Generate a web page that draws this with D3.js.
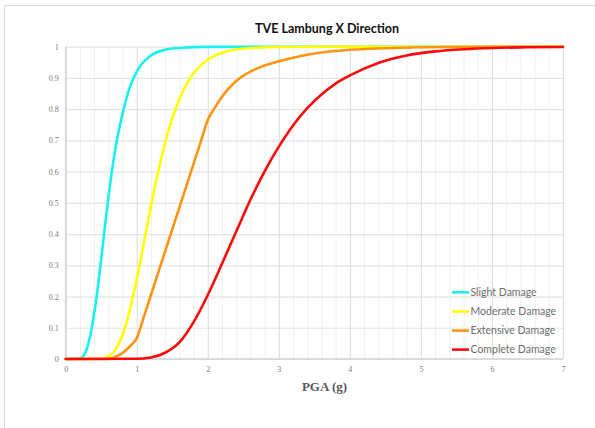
<!DOCTYPE html>
<html>
<head>
<meta charset="utf-8">
<script src="https://cdn.jsdelivr.net/npm/d3@7"></script>
<style>
  html, body { margin: 0; padding: 0; background: #fff; }
  svg { display: block; }
</style>
</head>
<body>
<svg id="chart" width="595" height="428"></svg>
<script>
// Fragility curves, PGA (g) vs probability of exceedance
const seriesNames = ["Slight Damage", "Moderate Damage", "Extensive Damage", "Complete Damage"];
const seriesColors = ["#19F0F0", "#FFFF00", "#FF9410", "#FF0A0A"];

const slightPGA  = [0, 0.2, 0.25, 0.3, 0.35, 0.4, 0.45, 0.5, 0.55, 0.6, 0.7, 0.8, 0.9, 1.0, 1.2, 1.4, 1.6, 2.0, 3, 4, 5, 6, 7];
const slightProb = [0, 0.002, 0.01, 0.034, 0.079, 0.145, 0.225, 0.32, 0.42, 0.515, 0.675, 0.785, 0.868, 0.92, 0.972, 0.99, 0.996, 0.9995, 1, 1, 1, 1, 1];

const moderatePGA  = [0, 0.5, 0.6, 0.7, 0.8, 0.9, 1.0, 1.1, 1.2, 1.3, 1.4, 1.5, 1.6, 1.8, 2.0, 2.2, 2.5, 3.0, 4, 5, 6, 7];
const moderateProb = [0, 0.001, 0.008, 0.03, 0.077, 0.154, 0.256, 0.371, 0.489, 0.598, 0.692, 0.771, 0.832, 0.915, 0.958, 0.98, 0.994, 0.999, 1, 1, 1, 1];

const extensivePGA  = [0, 0.6, 0.7, 0.8, 0.9, 1.0, 1.1, 1.2, 1.3, 1.4, 1.5, 1.6, 1.7, 1.8, 1.9, 2.0, 2.1, 2.2, 2.4, 2.6, 2.8, 3.0, 3.5, 4.0, 4.5, 5.0, 6.0, 7.0];
const extensiveProb = [0, 0.0, 0.007, 0.019, 0.04, 0.067, 0.135, 0.205, 0.275, 0.345, 0.415, 0.485, 0.555, 0.625, 0.695, 0.765, 0.805, 0.84, 0.89, 0.92, 0.94, 0.953, 0.978, 0.99, 0.995, 0.998, 1, 1];

const completePGA  = [0, 1.0, 1.2, 1.4, 1.6, 1.8, 2.0, 2.2, 2.4, 2.6, 2.8, 3.0, 3.2, 3.4, 3.6, 3.8, 4.0, 4.4, 4.8, 5.2, 5.6, 6.0, 6.5, 7.0];
const completeProb = [0, 0.001, 0.005, 0.02, 0.053, 0.118, 0.205, 0.305, 0.408, 0.51, 0.601, 0.68, 0.748, 0.803, 0.847, 0.882, 0.908, 0.948, 0.972, 0.985, 0.992, 0.996, 0.998, 0.999];

const xTicks = [0, 1, 2, 3, 4, 5, 6, 7];
const yTicks = [0, 0.1, 0.2, 0.3, 0.4, 0.5, 0.6, 0.7, 0.8, 0.9, 1];

const seriesPGA  = [slightPGA, moderatePGA, extensivePGA, completePGA];
const seriesProb = [slightProb, moderateProb, extensiveProb, completeProb];

const svg = d3.select("#chart");
const W = 595, H = 428;
const plot = { left: 65.7, right: 563, top: 46.7, bottom: 359 };

const x = d3.scaleLinear().domain([0, 7]).range([plot.left, plot.right]);
const y = d3.scaleLinear().domain([0, 1]).range([plot.bottom, plot.top]);

// outer frame (top and left edges)
svg.append("path")
  .attr("d", `M4.5,${H} V5.5 H${W}`)
  .attr("fill", "none").attr("stroke", "#D9D9D9").attr("stroke-width", 1);

// minor vertical gridlines every 0.2
const minorX = d3.range(1, 35).map(i => i * 0.2).filter(v => Math.abs(v - Math.round(v)) > 1e-6);
svg.append("g")
  .attr("transform", `translate(0,${plot.bottom})`)
  .call(d3.axisBottom(x).tickValues(minorX).tickSize(-(plot.bottom - plot.top)).tickFormat(""))
  .call(g => g.select(".domain").remove())
  .call(g => g.selectAll("line").attr("stroke", "#F0F0F0").attr("stroke-width", 1));

// horizontal gridlines
svg.append("g")
  .attr("transform", `translate(${plot.left},0)`)
  .call(d3.axisLeft(y).tickValues(yTicks).tickSize(-(plot.right - plot.left)).tickFormat(""))
  .call(g => g.select(".domain").remove())
  .call(g => g.selectAll("line").attr("stroke", "#E4E4E4").attr("stroke-width", 1.2));

// major vertical gridlines at integer PGA
svg.append("g")
  .attr("transform", `translate(0,${plot.bottom})`)
  .call(d3.axisBottom(x).tickValues(xTicks).tickSize(-(plot.bottom - plot.top)).tickFormat(""))
  .call(g => g.select(".domain").remove())
  .call(g => g.selectAll("line").attr("stroke", "#E0E0E0").attr("stroke-width", 1.2));

// axis baselines
svg.append("line")
  .attr("x1", plot.left).attr("x2", plot.right)
  .attr("y1", plot.bottom).attr("y2", plot.bottom)
  .attr("stroke", "#D4D4D4").attr("stroke-width", 1.5);
svg.append("line")
  .attr("x1", plot.left).attr("x2", plot.left)
  .attr("y1", plot.top).attr("y2", plot.bottom)
  .attr("stroke", "#D4D4D4").attr("stroke-width", 1.5);

// tick labels
const tickFont = "'Liberation Serif', 'DejaVu Serif', serif";
svg.append("g")
  .attr("transform", `translate(0,${plot.bottom})`)
  .call(d3.axisBottom(x).tickValues(xTicks).tickSize(0).tickPadding(7).tickFormat(d3.format("d")))
  .call(g => g.select(".domain").remove())
  .call(g => g.selectAll("text").attr("fill", "#7A7A7A").attr("font-size", 8).attr("font-family", tickFont));

svg.append("g")
  .attr("transform", `translate(${plot.left},0)`)
  .call(d3.axisLeft(y).tickValues(yTicks).tickSize(0).tickPadding(7).tickFormat(d => d === 0 || d === 1 ? d3.format("d")(d) : d3.format(".1f")(d)))
  .call(g => g.select(".domain").remove())
  .call(g => g.selectAll("text").attr("fill", "#7A7A7A").attr("font-size", 8).attr("font-family", tickFont));

// curves
const line = d3.line()
  .x(d => x(d[0]))
  .y(d => y(d[1]))
  .curve(d3.curveMonotoneX);

seriesNames.forEach((name, i) => {
  const pts = seriesPGA[i].map((p, j) => [p, seriesProb[i][j]]);
  svg.append("path")
    .datum(pts)
    .attr("d", line)
    .attr("fill", "none")
    .attr("stroke", seriesColors[i])
    .attr("stroke-width", 2.6)
    .attr("stroke-linejoin", "round")
    .attr("stroke-linecap", "round");
});

// title
svg.append("text")
  .attr("x", 327).attr("y", 32.5)
  .attr("text-anchor", "middle")
  .attr("font-family", "Lato, 'Open Sans', sans-serif")
  .attr("font-weight", "bold")
  .attr("font-size", 12.5)
  .attr("fill", "#111")
  .text("TVE Lambung X Direction");

// x-axis title
svg.append("text")
  .attr("x", 324.5).attr("y", 391)
  .attr("text-anchor", "middle")
  .attr("font-family", tickFont)
  .attr("font-weight", "bold")
  .attr("font-size", 13)
  .attr("fill", "#595959")
  .text("PGA (g)");

// legend
const legendY = [292.3, 311.5, 330.6, 349.6];
const legend = svg.append("g");
seriesNames.forEach((name, i) => {
  legend.append("line")
    .attr("x1", 452).attr("x2", 469)
    .attr("y1", legendY[i]).attr("y2", legendY[i])
    .attr("stroke", seriesColors[i]).attr("stroke-width", 2.6);
  legend.append("text")
    .attr("x", 470.5).attr("y", legendY[i])
    .attr("dy", "0.35em")
    .attr("font-family", "Lato, 'Open Sans', sans-serif")
    .attr("font-size", 10.5)
    .attr("fill", "#6E6E6E")
    .text(name);
});
</script>
</body>
</html>
